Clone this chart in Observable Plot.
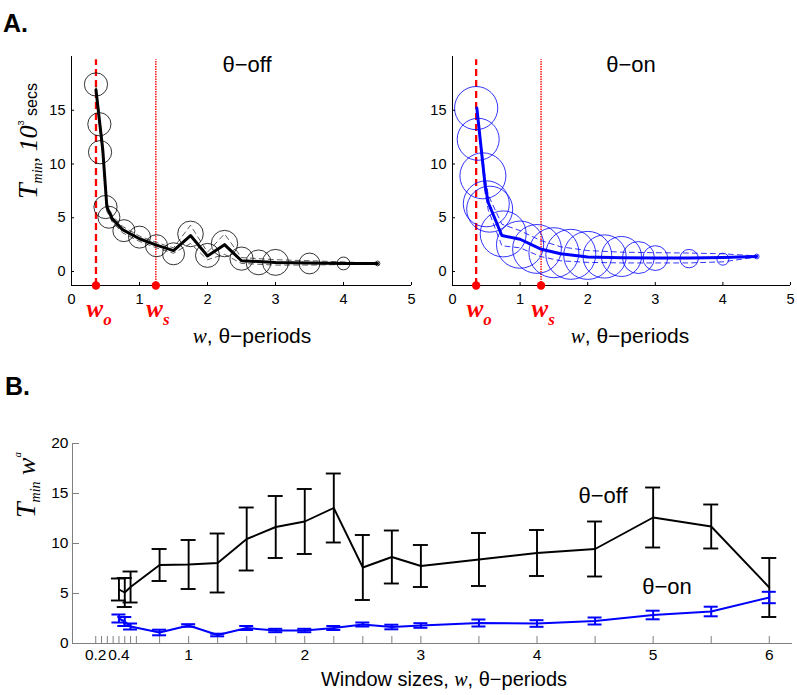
<!DOCTYPE html>
<html><head><meta charset="utf-8">
<script src="https://cdn.jsdelivr.net/npm/d3@7"></script>
<script src="https://cdn.jsdelivr.net/npm/@observablehq/plot@0.6"></script>
<style>
body{margin:0;background:#fff;}
#wrap{position:relative;width:797px;height:695px;overflow:hidden;background:#fff;}
#wrap > svg, #wrap > figure{position:absolute;margin:0;}
</style></head><body><div id="wrap"></div>
<script>
// ---------- Panel A: θ-off ----------
const offCircW = [0.36, 0.41, 0.42, 0.5, 0.55, 0.77, 1.0, 1.25, 1.5, 1.75, 2.0, 2.25, 2.5, 2.75, 3.0, 3.5, 4.0, 4.5];
const offCircT = [17.4, 13.7, 11.1, 6.0, 5.05, 3.8, 3.2, 2.4, 1.65, 3.5, 1.5, 2.6, 1.2, 0.85, 0.85, 0.75, 0.75, 0.75];
const offSpread = [2.9, 2.9, 2.9, 2.9, 2.75, 2.75, 2.75, 2.75, 2.75, 3.2, 3.0, 3.3, 2.9, 3.1, 3.25, 2.6, 1.6, 0.6];
const offLineW = [0.36, 0.46, 0.52, 0.6, 0.75, 1.0, 1.25, 1.5, 1.75, 2.0, 2.25, 2.5, 3.0, 3.5, 4.0, 4.5];
const offLineT = [16.9, 11.3, 6.0, 4.9, 3.9, 3.05, 2.45, 1.95, 3.35, 1.45, 2.5, 1.0, 0.85, 0.8, 0.75, 0.75];
const offUpper = [17.2, 11.8, 6.4, 5.2, 4.2, 3.3, 2.7, 2.2, 4.3, 1.8, 3.5, 1.3, 1.1, 1.0, 0.9, 0.75];
const offLower = [16.6, 10.8, 5.6, 4.6, 3.6, 2.8, 2.2, 1.7, 2.6, 1.1, 1.6, 0.75, 0.6, 0.6, 0.65, 0.75];
const offWo = 0.36, offWs = 1.24;

// ---------- Panel A: θ-on ----------
const onCircW = [0.35, 0.38, 0.45, 0.5, 0.55, 0.75, 1.0, 1.25, 1.5, 1.75, 2.0, 2.25, 2.5, 2.75, 3.0, 3.5, 4.0, 4.5];
const onCircT = [15.2, 12.3, 8.9, 6.3, 5.8, 3.5, 2.5, 2.1, 1.75, 1.6, 1.5, 1.4, 1.4, 1.3, 1.25, 1.2, 1.15, 1.4];
const onSpread = [5.4, 5.25, 5.75, 5.75, 5.75, 5.75, 5.9, 6.1, 6.25, 6.25, 6.0, 5.4, 5.0, 4.0, 3.1, 2.3, 1.5, 0.6];
const onLineW = [0.36, 0.485, 0.53, 0.73, 1.0, 1.3, 1.6, 2.0, 2.5, 3.0, 3.5, 4.0, 4.5];
const onLineT = [15.2, 7.9, 6.4, 3.35, 3.0, 2.1, 1.65, 1.35, 1.28, 1.25, 1.25, 1.3, 1.4];
const onUpper = [15.2, 8.6, 7.1, 4.4, 3.8, 2.9, 2.3, 1.95, 1.8, 1.75, 1.72, 1.65, 1.45];
const onLower = [15.2, 7.2, 5.7, 2.4, 2.2, 1.4, 1.0, 0.85, 0.8, 0.8, 0.8, 0.9, 1.35];
const onWo = 0.35, onWs = 1.31;

const aXTicks = [0, 1, 2, 3, 4, 5];
const aYTicks = [0, 5, 10, 15];

// ---------- Panel B ----------
const bW = [0.4, 0.45, 0.5, 0.75, 1, 1.25, 1.5, 1.75, 2, 2.25, 2.5, 2.75, 3, 3.5, 4, 4.5, 5, 5.5, 6];
const bOffMean = [5.4, 5.1, 5.65, 7.85, 7.9, 8.05, 10.45, 11.65, 12.2, 13.55, 7.6, 8.65, 7.75, 8.4, 9.05, 9.45, 12.6, 11.7, 5.6];
const bOffErr  = [1.1, 1.45, 1.55, 1.6, 2.45, 2.95, 3.15, 3.1, 3.25, 3.45, 3.25, 2.65, 2.1, 2.65, 2.3, 2.75, 3.0, 2.2, 2.95];
const bOnMean  = [2.5, 2.2, 1.7, 1.1, 1.8, 0.85, 1.55, 1.3, 1.3, 1.55, 1.9, 1.65, 1.8, 2.05, 2.0, 2.25, 2.85, 3.2, 4.6];
const bOnErr   = [0.4, 0.45, 0.3, 0.28, 0.13, 0.13, 0.2, 0.17, 0.17, 0.2, 0.2, 0.23, 0.23, 0.35, 0.33, 0.35, 0.43, 0.48, 0.57];
const bXTicks = [0.2, 0.25, 0.3, 0.35, 0.4, 0.45, 0.5, 0.55, 0.75, 1, 1.25, 1.5, 1.75, 2, 2.25, 2.5, 2.75, 3, 3.5, 4, 4.5, 5, 5.5, 6];
const bXLabeled = [0.2, 0.4, 1, 2, 3, 4, 5, 6];
const bYTicks = [0, 5, 10, 15, 20];

const A_YMIN = -1.3, A_YMAX = 20, A_RED_TOP = 19.7;
const SANS = "'Liberation Sans', Arial, sans-serif";
const SERIF = "'Liberation Serif', 'Times New Roman', serif";
const RED = "#ff0000", BLUE = "#0000ff";

const wrap = document.getElementById("wrap");

function panelA(o) {
  const circles = o.cw.map((w, i) => ({w, t: o.ct[i], s: o.sp[i]}));
  const line = o.lw.map((w, i) => ({w, t: o.lt[i], u: o.up[i], l: o.lo[i]}));
  const p = Plot.plot({
    width: o.width, height: 320,
    marginLeft: o.ml, marginRight: o.mr, marginTop: 56, marginBottom: 35,
    x: {domain: [0, 5]},
    y: {domain: [A_YMIN, A_YMAX]},
    r: {type: "linear", domain: [0, 7], range: [0, 28]},
    style: {fontFamily: SANS, fontSize: "14.5px", color: "black", background: "transparent", overflow: "visible"},
    marks: [
      Plot.ruleX([o.wo], {x: d => d, y1: () => A_YMIN, y2: () => A_RED_TOP, stroke: RED, strokeWidth: 2.3, strokeDasharray: "7,4"}),
      Plot.ruleX([o.ws], {x: d => d, y1: () => A_YMIN, y2: () => A_RED_TOP, stroke: RED, strokeWidth: 1.4, strokeDasharray: "1.5,1"}),
      Plot.line(line, {x: "w", y: "u", stroke: o.dash, strokeWidth: 0.8, strokeDasharray: "5,4"}),
      Plot.line(line, {x: "w", y: "l", stroke: o.dash, strokeWidth: 0.8, strokeDasharray: "5,4"}),
      Plot.dot(circles, {x: "w", y: "t", r: "s", stroke: o.color, strokeWidth: 0.8, fill: "none"}),
      Plot.line(line, {x: "w", y: "t", stroke: o.color, strokeWidth: 3}),
      Plot.ruleY([A_YMIN], {stroke: "black"}),
      Plot.ruleX([0], {stroke: "black"}),
      Plot.ruleX(aXTicks, {x: d => d, y1: () => A_YMIN, y2: () => A_YMIN, insetTop: -3, stroke: "black"}),
      Plot.ruleY(aYTicks, {y: d => d, x1: () => 0, x2: () => 0, insetRight: -3, stroke: "black"}),
      Plot.axisX({ticks: o.xticks, tickFormat: d => String(d), tickSize: 0, tickPadding: 8, label: null}),
      Plot.axisY({ticks: aYTicks, tickFormat: d => String(d), tickSize: 0, tickPadding: 6, label: null}),
      Plot.dot([o.wo, o.ws], {x: d => d, y: () => A_YMIN, fill: RED, stroke: "none", r: 4.2})
    ]
  });
  p.style.left = o.left + "px";
  p.style.top = "0px";
  wrap.appendChild(p);
  return p;
}

const pOff = panelA({cw: offCircW, ct: offCircT, sp: offSpread, lw: offLineW, lt: offLineT, up: offUpper, lo: offLower,
  wo: offWo, ws: offWs, color: "black", dash: "#333", width: 420, ml: 71, mr: 9, left: 0, xticks: aXTicks});
const pOn = panelA({cw: onCircW, ct: onCircT, sp: onSpread, lw: onLineW, lt: onLineT, up: onUpper, lo: onLower,
  wo: onWo, ws: onWs, color: BLUE, dash: BLUE, width: 377, ml: 32, mr: 7, left: 420, xticks: aXTicks});

// Panel B
const offB = bW.map((w, i) => ({w, m: bOffMean[i], lo: bOffMean[i] - bOffErr[i], hi: bOffMean[i] + bOffErr[i]}));
const onB = bW.map((w, i) => ({w, m: bOnMean[i], lo: bOnMean[i] - bOnErr[i], hi: bOnMean[i] + bOnErr[i]}));
const GRAY = "#808080";
function errMarks(data, color, sw, cap) {
  return [
    Plot.ruleX(data, {x: "w", y1: "lo", y2: "hi", stroke: color, strokeWidth: sw}),
    Plot.ruleY(data, {y: "lo", x1: "w", x2: "w", insetLeft: -cap, insetRight: -cap, stroke: color, strokeWidth: sw}),
    Plot.ruleY(data, {y: "hi", x1: "w", x2: "w", insetLeft: -cap, insetRight: -cap, stroke: color, strokeWidth: sw}),
    Plot.line(data, {x: "w", y: "m", stroke: color, strokeWidth: sw})
  ];
}
const pB = Plot.plot({
  width: 797, height: 295,
  marginLeft: 72, marginRight: 5, marginTop: 43, marginBottom: 52,
  x: {domain: [0, 6.2]},
  y: {domain: [0, 20]},
  style: {fontFamily: SANS, fontSize: "15.5px", color: "black", background: "transparent", overflow: "visible"},
  marks: [
    Plot.ruleY([0], {stroke: GRAY}),
    Plot.ruleX([0], {stroke: GRAY}),
    Plot.ruleX(bXTicks, {x: d => d, y1: () => 0, y2: () => 0, insetTop: -7, stroke: GRAY}),
    Plot.ruleY(bYTicks, {y: d => d, x1: () => 0, x2: () => 0, insetRight: -7, stroke: GRAY}),
    Plot.axisX({ticks: bXTicks, tickFormat: d => bXLabeled.includes(d) ? String(d) : "", tickSize: 0, tickPadding: 5, label: null}),
    Plot.axisY({ticks: bYTicks, tickFormat: d => String(d), tickSize: 0, tickPadding: 4, label: null}),
    ...errMarks(offB, "black", 1.9, 7.5),
    ...errMarks(onB, BLUE, 2, 7)
  ]
});
pB.style.left = "0px";
pB.style.top = "400px";
wrap.appendChild(pB);

// Overlay text
const NS = "http://www.w3.org/2000/svg";
const ov = document.createElementNS(NS, "svg");
ov.setAttribute("width", 797); ov.setAttribute("height", 695);
ov.style.position = "absolute"; ov.style.left = "0px"; ov.style.top = "0px";
const xo = v => pOff.scale("x").apply(v);
const xn = v => pOn.scale("x").apply(v) + 420;
function wLabel(x, sub) {
  return `<text x="${x - 9}" y="317" fill="${RED}" font-family="${SERIF}" font-weight="bold" font-style="italic" font-size="25">w<tspan font-size="17" dy="8">${sub}</tspan></text>`;
}
ov.innerHTML = `
<g font-family="${SANS}" fill="black">
  <text x="3" y="32" font-weight="bold" font-size="25">A.</text>
  <text x="5" y="395" font-weight="bold" font-size="25">B.</text>
  <text x="247" y="72" font-size="22" text-anchor="middle">θ−off</text>
  <text x="631" y="72" font-size="22" text-anchor="middle">θ−on</text>
  <text x="252" y="343" font-size="21" text-anchor="middle"><tspan font-family="${SERIF}" font-style="italic">w</tspan>, θ−periods</text>
  <text x="630" y="343" font-size="21" text-anchor="middle"><tspan font-family="${SERIF}" font-style="italic">w</tspan>, θ−periods</text>
  <text x="444" y="686" font-size="20" text-anchor="middle">Window sizes, <tspan font-family="${SERIF}" font-style="italic">w</tspan>, θ−periods</text>
  <text x="603" y="503" font-size="22" text-anchor="middle">θ−off</text>
  <text x="667" y="594" font-size="22" text-anchor="middle">θ−on</text>
  <text transform="translate(37,141) rotate(-90)" text-anchor="middle" font-size="16"><tspan font-family="${SERIF}" font-style="italic" font-size="28">T</tspan><tspan font-family="${SERIF}" font-style="italic" font-size="14" dy="5">min</tspan><tspan dy="-5" font-family="${SERIF}" font-size="22">, </tspan><tspan font-family="${SERIF}" font-style="italic" font-size="26">10</tspan><tspan font-size="9" dy="-13">3</tspan><tspan dy="13"> secs</tspan></text>
  <text transform="translate(35,485) rotate(-90)" text-anchor="middle"><tspan font-family="${SERIF}" font-style="italic" font-size="28">T</tspan><tspan font-family="${SERIF}" font-style="italic" font-size="14" dy="5">min</tspan><tspan font-family="${SERIF}" font-style="italic" font-size="26" dy="-5"> w</tspan><tspan font-family="${SERIF}" font-style="italic" font-size="11" dy="-14">a</tspan></text>
</g>
${wLabel(xo(offWo), "o")}${wLabel(xo(offWs), "s")}${wLabel(xn(onWo), "o")}${wLabel(xn(onWs), "s")}
`;
wrap.appendChild(ov);
</script>
</body></html>
